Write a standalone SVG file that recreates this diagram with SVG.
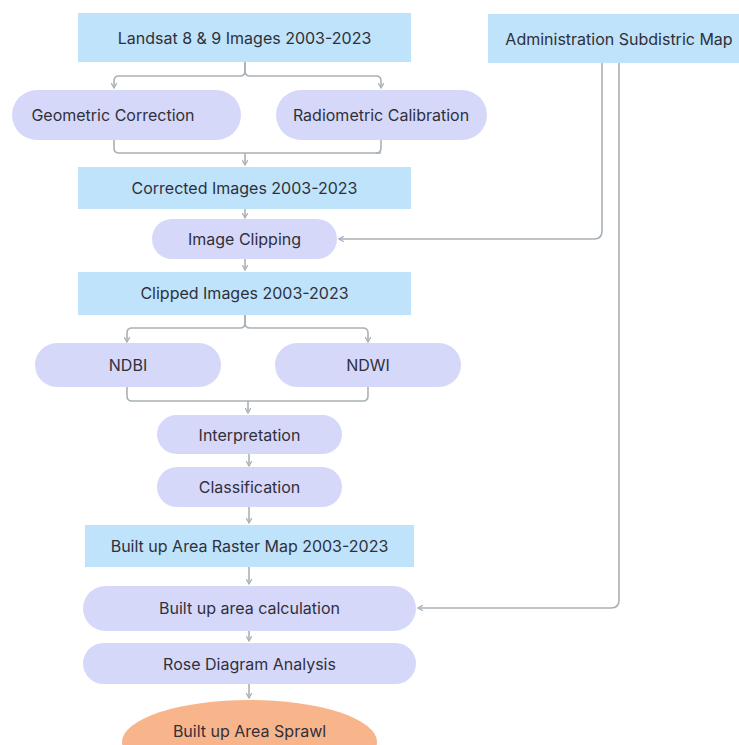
<svg xmlns="http://www.w3.org/2000/svg" width="739" height="745" viewBox="0 0 739 745">
<style>
.box{fill:#BEE3FA}
.pill{fill:#D6D8FA}
.oval{fill:#F8B58C}
.t{font-family:Inter,"Liberation Sans",sans-serif;font-size:16px;fill:#30303a;text-anchor:middle;dominant-baseline:central}
.c{fill:none;stroke:#A9B1B6;stroke-width:1.6;stroke-linejoin:round}
</style>
<defs>
<marker id="ah" viewBox="0 0 10 10" refX="8" refY="5" markerWidth="7" markerHeight="7" orient="auto" markerUnits="userSpaceOnUse">
<path d="M1,1 L8,5 L1,9" fill="none" stroke="#A9B1B6" stroke-width="1.8"/>
</marker>
</defs>
<rect width="739" height="745" fill="#ffffff"/>
<g id="connectors">
<path class="c" d="M245,62 V71 Q245,76 240,76 H119 Q114,76 114,81 V88" marker-end="url(#ah)"/>
<path class="c" d="M245,62 V71 Q245,76 250,76 H376 Q381,76 381,81 V88" marker-end="url(#ah)"/>
<path class="c" d="M114,140 V148 Q114,153 119,153 H381"/>
<path class="c" d="M381,140 V148 Q381,153 376,153"/>
<path class="c" d="M245,153 V165" marker-end="url(#ah)"/>
<path class="c" d="M245,209 V218" marker-end="url(#ah)"/>
<path class="c" d="M602,63 V231 Q602,239 594,239 H339" marker-end="url(#ah)"/>
<path class="c" d="M245,259 V270" marker-end="url(#ah)"/>
<path class="c" d="M245,315 V323 Q245,328 240,328 H132 Q127,328 127,333 V342" marker-end="url(#ah)"/>
<path class="c" d="M245,315 V323 Q245,328 250,328 H363 Q368,328 368,333 V342" marker-end="url(#ah)"/>
<path class="c" d="M127,387 V396 Q127,401 132,401 H363 Q368,401 368,396 V387"/>
<path class="c" d="M248,401 V413" marker-end="url(#ah)"/>
<path class="c" d="M249,454 V466" marker-end="url(#ah)"/>
<path class="c" d="M249,507 V523" marker-end="url(#ah)"/>
<path class="c" d="M249,567 V584" marker-end="url(#ah)"/>
<path class="c" d="M619,63 V600 Q619,608 611,608 H418" marker-end="url(#ah)"/>
<path class="c" d="M249,631 V641" marker-end="url(#ah)"/>
<path class="c" d="M249,684 V698" marker-end="url(#ah)"/>
</g>
<g id="landsat"><rect class="box" x="78" y="13" width="333" height="49"/><text class="t" x="244.5" y="38">Landsat 8 &amp; 9 Images 2003-2023</text></g>
<g id="admin"><rect class="box" x="488" y="14" width="251" height="49"/><text class="t" x="619" y="39">Administration Subdistric Map</text></g>
<g id="geometric"><rect class="pill" x="12" y="90" width="229" height="50" rx="25"/><text class="t" x="113" y="115">Geometric Correction</text></g>
<g id="radiometric"><rect class="pill" x="276" y="90" width="211" height="50" rx="25"/><text class="t" x="381" y="115">Radiometric Calibration</text></g>
<g id="corrected"><rect class="box" x="78" y="167" width="333" height="42"/><text class="t" x="244.5" y="188">Corrected Images 2003-2023</text></g>
<g id="clipping"><rect class="pill" x="152" y="219" width="185" height="40" rx="20"/><text class="t" x="244.5" y="239">Image Clipping</text></g>
<g id="clipped"><rect class="box" x="78" y="272" width="333" height="43"/><text class="t" x="244.5" y="293">Clipped Images 2003-2023</text></g>
<g id="ndbi"><rect class="pill" x="35" y="343" width="186" height="44" rx="22"/><text class="t" x="128" y="365">NDBI</text></g>
<g id="ndwi"><rect class="pill" x="275" y="343" width="186" height="44" rx="22"/><text class="t" x="368" y="365">NDWI</text></g>
<g id="interpretation"><rect class="pill" x="157" y="415" width="185" height="39" rx="19.5"/><text class="t" x="249.5" y="435">Interpretation</text></g>
<g id="classification"><rect class="pill" x="157" y="467" width="185" height="40" rx="20"/><text class="t" x="249.5" y="487">Classification</text></g>
<g id="raster"><rect class="box" x="85" y="525" width="329" height="42"/><text class="t" x="249.5" y="546">Built up Area Raster Map 2003-2023</text></g>
<g id="calculation"><rect class="pill" x="83" y="586" width="333" height="45" rx="22.5"/><text class="t" x="249.5" y="608">Built up area calculation</text></g>
<g id="rose"><rect class="pill" x="83" y="643" width="333" height="41" rx="20.5"/><text class="t" x="249.5" y="664">Rose Diagram Analysis</text></g>
<g id="sprawl"><ellipse class="oval" cx="249.5" cy="742" rx="127.5" ry="42"/><text class="t" x="249.5" y="731">Built up Area Sprawl</text></g>
</svg>
